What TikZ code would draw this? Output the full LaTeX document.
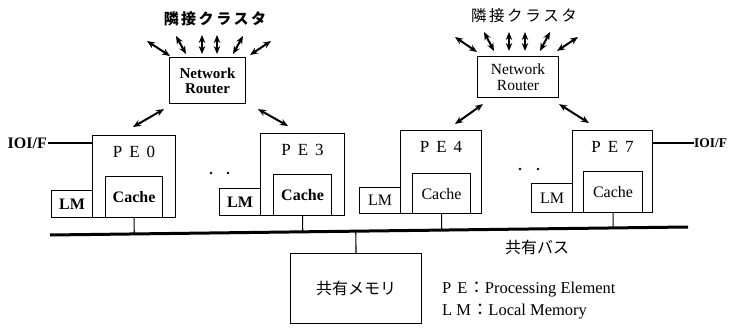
\documentclass[tikz,border=0pt]{standalone}
\usepackage{fontspec}
\setmainfont{Liberation Serif}
\newfontfamily\jp{Noto Sans CJK JP}
\usetikzlibrary{arrows.meta,calc}
\begin{document}
\begin{tikzpicture}[x=1pt,y=-1pt,
  box/.style={draw,line width=1.1pt,inner sep=0pt,anchor=north west},
  bi/.style={line width=2pt,{Stealth[length=8pt,width=6.5pt]}-{Stealth[length=8pt,width=6.5pt]}},
  txt/.style={font=\fontsize{16}{16}\selectfont},
  btxt/.style={font=\fontsize{16}{16}\selectfont\bfseries},
  jtxt/.style={font=\fontsize{15}{15}\selectfont\jp},
  petxt/.style={font=\fontsize{17}{17}\selectfont},
  link/.style={line width=1.1pt},
  bus/.style={line width=3pt}]
\clip (0,0) rectangle (730,331);
\fill[white] (0,0) rectangle (730,331);

% routers
\node[box,minimum width=76pt,minimum height=46pt,align=center,font=\fontsize{15}{15}\selectfont\bfseries] (r1) at (169,57) {Network\\Router};
\node[box,minimum width=81pt,minimum height=41pt,align=center,font=\fontsize{15.5}{16}\selectfont] (r2) at (477,56) {Network\\Router};

% cluster labels
\node[jtxt,font=\fontsize{15}{15}\selectfont\jp\bfseries] (n1) at (215,19) {隣\,接\,ク\,ラ\,ス\,タ};
\node[jtxt,font=\fontsize{15.5}{15.5}\selectfont\jp] (n2) at (524,16) {隣\,接\,ク\,ラ\,ス\,タ};

% fan arrows
\foreach \xa/\ya/\xb/\yb in {170/56/147/41, 186/54/176/36, 202/54/202/35, 217/54/217/35, 233/54/243/36, 250/55/271/41,
                   477/52/455/37, 494/51/484/32, 509/51/509/32, 525/51/525/32, 540/51/550/32, 557/51/578/37}
  \draw[bi] (\xa,\ya) -- (\xb,\yb);

% router to PE arrows
\draw[bi] (r1.south west) ++(-5,5) coordinate (a1s) -- (133,127) coordinate (a1e);
\draw[bi] (r1.south east) ++(12,5) coordinate (a2s) -- (288,126) coordinate (a2e);
\draw[bi] (r2.south west) ++(6,6) coordinate (a3s) -- (455,124) coordinate (a3e);
\draw[bi] (r2.south east) ++(0,6) coordinate (a4s) -- (589,123) coordinate (a4e);

% PE boxes
\node[box,minimum width=83pt,minimum height=82pt] (pe0) at (92,135) {};
\node[box,minimum width=41pt,minimum height=27pt,btxt] (lm0) at (51,190) {LM};
\node[box,minimum width=57pt,minimum height=41pt,btxt] (c0) at (105,176) {Cache};
\node[petxt] (pe0t) at ($(pe0.north)+(0,17)$) {P\hspace{7pt}E\hspace{7pt}0};

\node[box,minimum width=84pt,minimum height=82pt] (pe3) at (260,133) {};
\node[box,minimum width=41pt,minimum height=27pt,btxt] (lm3) at (219,188) {LM};
\node[box,minimum width=58pt,minimum height=41pt,btxt] (c3) at (273,174) {Cache};
\node[petxt] (pe3t) at ($(pe3.north)+(0,17)$) {P\hspace{7pt}E\hspace{7pt}3};

\node[box,minimum width=81pt,minimum height=83pt] (pe4) at (400,130) {};
\node[box,minimum width=41pt,minimum height=26pt,txt] (lm4) at (359,187) {LM};
\node[box,minimum width=58pt,minimum height=40pt,txt] (c4) at (412,173) {Cache};
\node[petxt] (pe4t) at ($(pe4.north)+(0,17)$) {P\hspace{7pt}E\hspace{7pt}4};

\node[box,minimum width=80pt,minimum height=82pt] (pe7) at (572,130) {};
\node[box,minimum width=41pt,minimum height=29pt,txt] (lm7) at (531,183) {LM};
\node[box,minimum width=59pt,minimum height=41pt,txt] (c7) at (583,171) {Cache};
\node[petxt] (pe7t) at ($(pe7.north)+(0,17)$) {P\hspace{7pt}E\hspace{7pt}7};

% dots
\foreach \x/\y in {211/173, 228/173, 520/169, 538/169}
  \fill (\x,\y) circle (1.4pt);

% IO interfaces
\node[btxt,anchor=east,inner sep=1pt] (io1) at (48,143) {IOI/F};
\draw[link] (io1.east) -- (io1.east -| pe0.west);
\node[anchor=west,inner sep=0pt,font=\fontsize{13.5}{13.5}\selectfont\bfseries] (io2) at (694,143) {IOI/F};
\draw[link] (io2.west -| pe7.east) -- (io2.west);

% bus
\coordinate (busL) at (50,235);
\coordinate (busR) at (688,227);
\draw[bus] (busL) -- (busR);
\foreach \c in {c0,c3,c4,c7}
  \draw[link] (\c.south) -- ($(busL)!(\c.south)!(busR)$);

% shared memory
\node[box,minimum width=131pt,minimum height=70pt,font=\fontsize{16}{16}\selectfont\jp] (sm) at (290,253) {共有メモリ};
\draw[link] (sm.north) -- ($(busL)!(sm.north)!(busR)$);
\node[font=\fontsize{16}{16}\selectfont\jp] (busl) at (537,247) {共有バス};

% legend
\node[anchor=west,inner sep=0pt,font=\fontsize{16.5}{16.5}\selectfont] (lg1) at (442,290) {P\hspace{6pt}E\hspace{1pt}{\jp ：}Processing Element};
\node[anchor=west,inner sep=0pt,font=\fontsize{16.5}{16.5}\selectfont] (lg2) at (442,312) {L\hspace{4pt}M\hspace{1pt}{\jp ：}Local Memory};
\end{tikzpicture}
\end{document}
